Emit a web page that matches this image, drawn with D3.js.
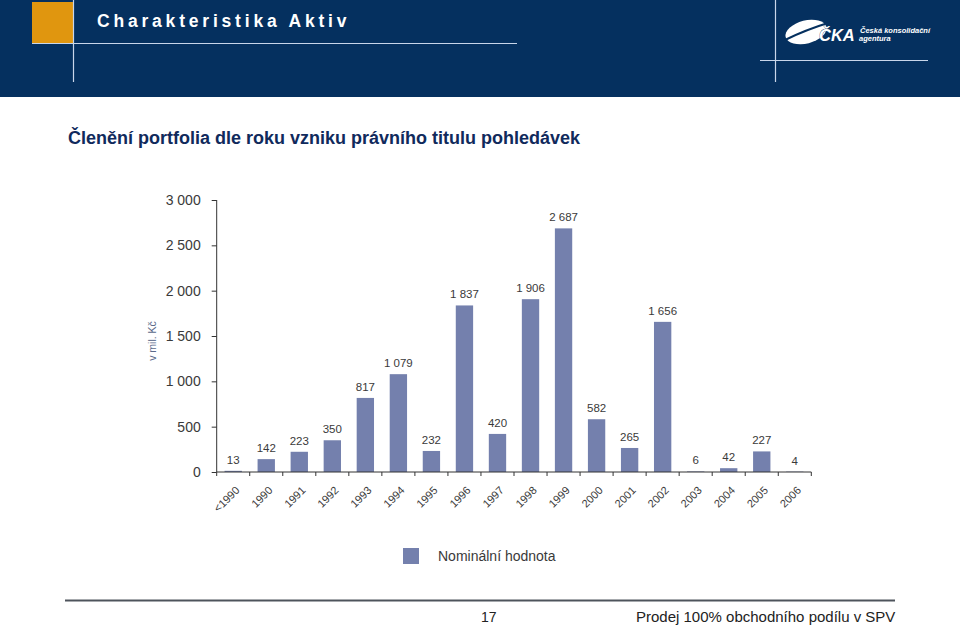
<!DOCTYPE html>
<html>
<head>
<meta charset="utf-8">
<script src="https://cdn.jsdelivr.net/npm/d3@7"></script>
<style>
  html, body { margin: 0; padding: 0; background: #fff; }
  svg { display: block; font-family: "Liberation Sans", Arial, Helvetica, sans-serif; }
</style>
</head>
<body>
<svg id="chart" width="960" height="627"></svg>
<script>
// ---- data ----
const categories = ["<1990","1990","1991","1992","1993","1994","1995","1996","1997","1998","1999","2000","2001","2002","2003","2004","2005","2006"];
const values = [13, 142, 223, 350, 817, 1079, 232, 1837, 420, 1906, 2687, 582, 265, 1656, 6, 42, 227, 4];
const yTicks = [0, 500, 1000, 1500, 2000, 2500, 3000];
const seriesName = "Nominální hodnota";
const headerTitle = "Charakteristika Aktiv";
const chartTitle = "Členění portfolia dle roku vzniku právního titulu pohledávek";
const yAxisTitle = "v mil. Kč";
const pageNumber = "17";
const footerText = "Prodej 100% obchodního podílu v SPV";

const svg = d3.select("#chart");
const navy = "#05305f";
const barColor = "#7480ad";
const textColor = "#3a3a3a";

const loc = d3.formatLocale({decimal: ",", thousands: "\u00a0", grouping: [3], currency: ["", " Kč"]});
const fmt = loc.format(",d");

// ---- header ----
svg.append("rect").attr("x", 0).attr("y", 0).attr("width", 960).attr("height", 97).attr("fill", navy);
svg.append("rect").attr("x", 32).attr("y", 2).attr("width", 41).attr("height", 41).attr("fill", "#e0960f");
svg.append("line").attr("x1", 32).attr("x2", 517).attr("y1", 43.5).attr("y2", 43.5)
  .attr("stroke", "#c9d6ea").attr("stroke-width", 1.2);
svg.append("line").attr("x1", 73.5).attr("x2", 73.5).attr("y1", 0).attr("y2", 82)
  .attr("stroke", "#c9d6ea").attr("stroke-width", 1.2);
svg.append("text").attr("x", 97).attr("y", 26.5)
  .attr("fill", "#ffffff").attr("font-size", 17.5).attr("font-weight", "bold")
  .attr("letter-spacing", "3.8px").text(headerTitle);

// right part of header: logo
svg.append("line").attr("x1", 775.5).attr("x2", 775.5).attr("y1", 0).attr("y2", 82)
  .attr("stroke", "#c9d6ea").attr("stroke-width", 1.2);
svg.append("line").attr("x1", 760).attr("x2", 928).attr("y1", 60.5).attr("y2", 60.5)
  .attr("stroke", "#c9d6ea").attr("stroke-width", 1.2);
const logo = svg.append("g");
logo.append("ellipse").attr("cx", 806).attr("cy", 32).attr("rx", 21).attr("ry", 11.5)
  .attr("transform", "rotate(-14 806 32)").attr("fill", "#ffffff");
logo.append("path").attr("d", "M785,40 Q805,30 831,22")
  .attr("fill", "none").attr("stroke", navy).attr("stroke-width", 2);
logo.append("text").attr("x", 819).attr("y", 40.5)
  .attr("fill", "#ffffff").attr("font-size", 16.5).attr("font-weight", "bold").attr("font-style", "italic")
  .attr("stroke", navy).attr("stroke-width", 0.6).attr("paint-order", "stroke")
  .text("ČKA");
logo.append("text").attr("x", 860).attr("y", 32.5)
  .attr("fill", "#ffffff").attr("font-size", 7.5).attr("font-weight", "bold").attr("font-style", "italic")
  .text("Česká konsolidační");
logo.append("text").attr("x", 859).attr("y", 41)
  .attr("fill", "#ffffff").attr("font-size", 7.5).attr("font-weight", "bold").attr("font-style", "italic")
  .text("agentura");

// ---- chart title ----
svg.append("text").attr("x", 68).attr("y", 144)
  .attr("fill", "#102a5c").attr("font-size", 18).attr("font-weight", "bold")
  .text(chartTitle);

// ---- scales ----
const x = d3.scaleBand().domain(categories).range([216.7, 811.3]).paddingInner(0.475).paddingOuter(0.2375);
const y = d3.scaleLinear().domain([0, 3000]).range([472, 200]);

// ---- bars ----
svg.append("g").selectAll("rect").data(values).join("rect")
  .attr("x", (d, i) => x(categories[i]))
  .attr("y", d => y(d))
  .attr("width", x.bandwidth())
  .attr("height", d => y(0) - y(d))
  .attr("fill", barColor);

// ---- value labels ----
svg.append("g").selectAll("text").data(values).join("text")
  .attr("x", (d, i) => x(categories[i]) + x.bandwidth() / 2)
  .attr("y", d => y(d) - 7)
  .attr("text-anchor", "middle")
  .attr("font-size", 11.5)
  .attr("fill", textColor)
  .text(d => fmt(d));

// ---- y axis ----
const yAxis = svg.append("g").attr("transform", "translate(216.7,0)")
  .call(d3.axisLeft(y).tickValues(yTicks).tickSize(5).tickPadding(11).tickFormat(d => fmt(d)));
yAxis.select(".domain").attr("stroke", "#333").attr("d", "M0,200V472");
yAxis.selectAll(".tick line").attr("stroke", "#333");
yAxis.selectAll(".tick text").attr("font-size", 14).attr("fill", textColor)
  .attr("font-family", "'Liberation Sans', Arial, sans-serif");

// ---- x axis ----
const xAxisG = svg.append("g").attr("transform", "translate(0,472)");
xAxisG.append("line").attr("x1", 216.7).attr("x2", 811.3).attr("y1", 0).attr("y2", 0).attr("stroke", "#333");
const step = x.step();
const boundaries = d3.range(categories.length + 1).map(i => 216.7 + i * step);
xAxisG.selectAll("line.tk").data(boundaries).join("line").attr("class", "tk")
  .attr("x1", d => d).attr("x2", d => d).attr("y1", 0).attr("y2", 4).attr("stroke", "#333");
xAxisG.selectAll("text").data(categories).join("text")
  .attr("transform", d => `translate(${x(d) + x.bandwidth() / 2 + 7},19) rotate(-45)`)
  .attr("text-anchor", "end")
  .attr("font-size", 11)
  .attr("fill", textColor)
  .text(d => d);

// ---- y axis title ----
svg.append("text").attr("transform", "translate(156,341) rotate(-90)")
  .attr("text-anchor", "middle").attr("font-size", 10.5).attr("fill", "#5b6a8a")
  .text(yAxisTitle);

// ---- legend ----
svg.append("rect").attr("x", 403).attr("y", 548).attr("width", 16).attr("height", 16).attr("fill", barColor);
svg.append("text").attr("x", 438).attr("y", 561).attr("font-size", 14).attr("fill", textColor).text(seriesName);

// ---- footer ----
svg.append("line").attr("x1", 65).attr("x2", 895).attr("y1", 600.5).attr("y2", 600.5)
  .attr("stroke", "#4e545c").attr("stroke-width", 2);
svg.append("text").attr("x", 481).attr("y", 622).attr("font-size", 14).attr("fill", "#222").text(pageNumber);
svg.append("text").attr("x", 636).attr("y", 622).attr("font-size", 15).attr("fill", "#222").text(footerText);
</script>
</body>
</html>
